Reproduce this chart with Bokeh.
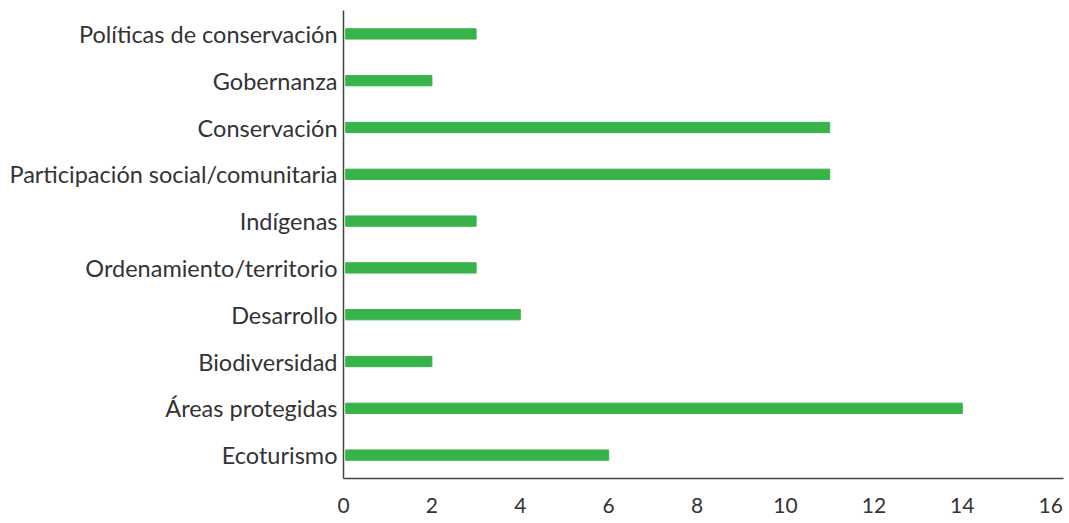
from bokeh.plotting import figure
from bokeh.models import Range1d, FactorRange, FixedTicker
from bokeh.embed import file_html
from bokeh.resources import INLINE

categories = ["Ecoturismo", "Áreas protegidas", "Biodiversidad", "Desarrollo",
              "Ordenamiento/territorio", "Indígenas", "Participación social/comunitaria",
              "Conservación", "Gobernanza", "Políticas de conservación"]
values = [6, 14, 2, 4, 3, 3, 11, 11, 2, 3]
x_ticks = [0, 2, 4, 6, 8, 10, 12, 14, 16]

FONT = "Lato"
TEXT = "#333333"

p = figure(width=1069, height=523, output_backend="svg", toolbar_location=None,
           y_range=FactorRange(factors=categories, range_padding=0),
           x_range=Range1d(0, 16.29),
           min_border_left=343, min_border_top=10, min_border_right=6, min_border_bottom=45)

p.hbar(y=categories, right=values, left=0.05, height=0.22, color="#37b34a")

p.outline_line_color = None
p.grid.grid_line_color = None
p.background_fill_color = "white"
p.border_fill_color = "white"

p.xaxis.ticker = FixedTicker(ticks=x_ticks)
for ax in (p.xaxis[0], p.yaxis[0]):
    ax.axis_line_color = "#444444"
    ax.axis_line_width = 1.5
    ax.major_tick_line_color = None
    ax.minor_tick_line_color = None
    ax.major_tick_out = 0
    ax.major_tick_in = 0
    ax.major_label_text_font = FONT
    ax.major_label_text_color = TEXT
p.yaxis.major_label_text_font_size = "23.5px"
p.xaxis.major_label_text_font_size = "21px"
p.xaxis.major_label_standoff = 19
p.yaxis.major_label_standoff = 6

open("out.html", "w").write(file_html(p, INLINE))
